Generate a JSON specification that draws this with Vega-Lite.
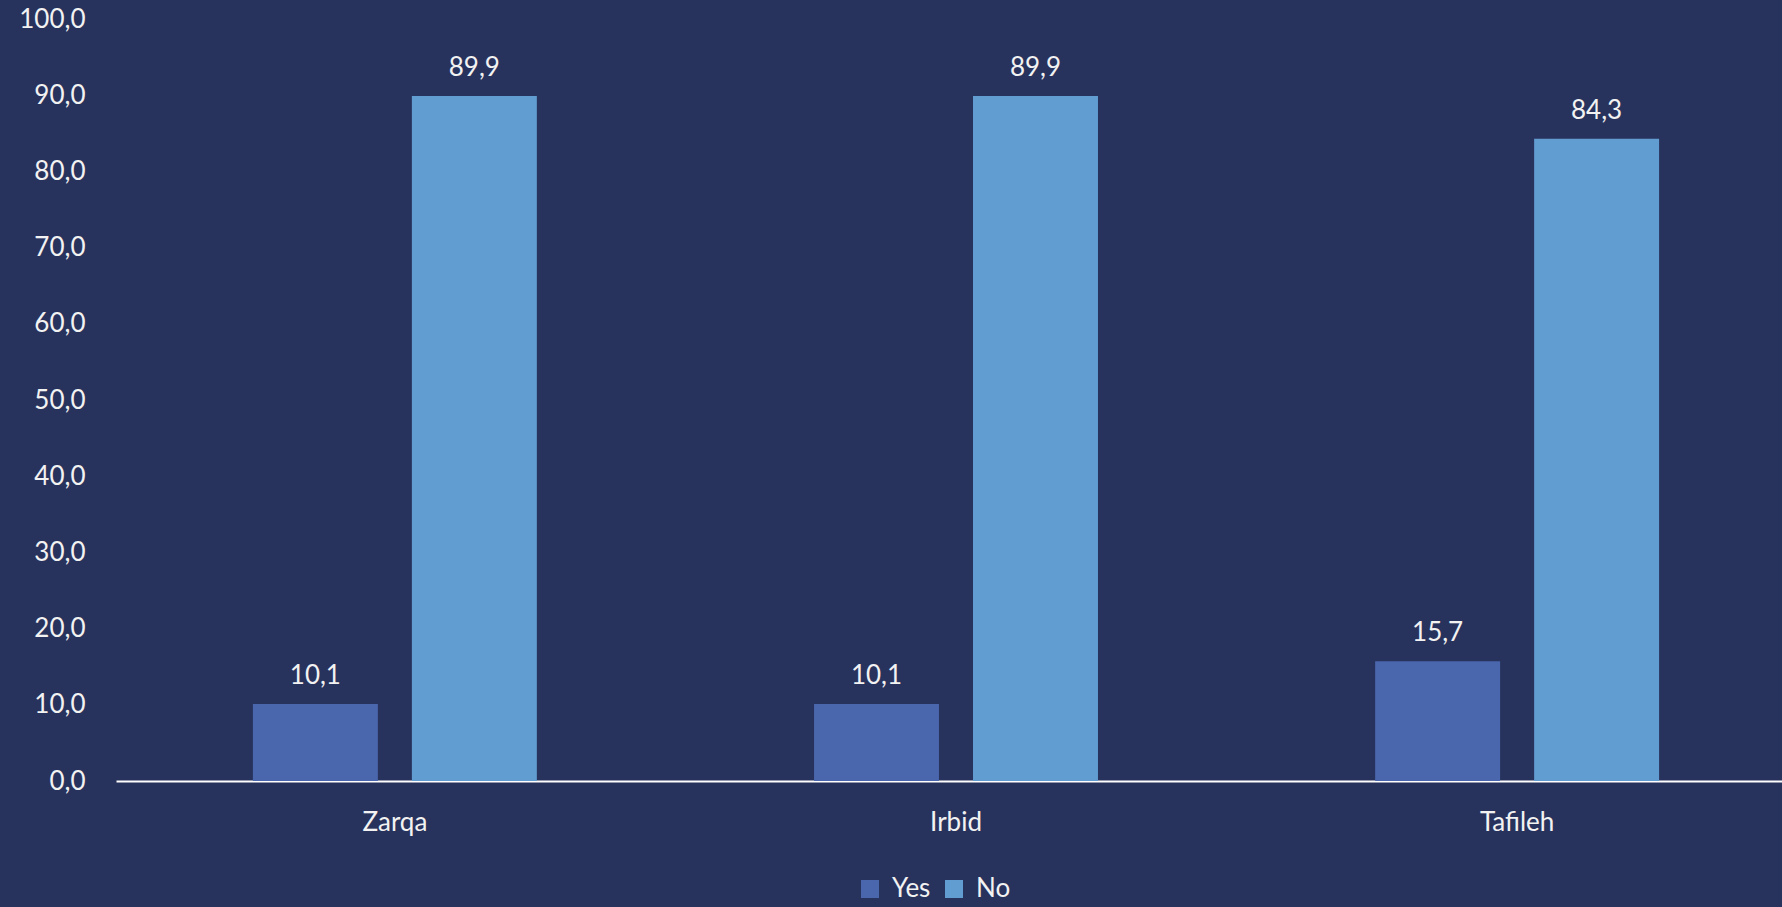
{
  "$schema": "https://vega.github.io/schema/vega-lite/v6.json",
  "width": 1680,
  "height": 762,
  "autosize": {"type": "none"},
  "padding": {"left": 116, "top": 19, "right": 0, "bottom": 126},
  "background": "#28335d",
  "config": {
    "locale": {"number": {"decimal": ",", "thousands": ".", "grouping": [3], "currency": ["", "€"]}},
    "view": {"stroke": null},
    "font": "Lato"
  },
  "data": {
    "values": [
      {"region": "Zarqa", "answer": "Yes", "value": 10.1},
      {"region": "Zarqa", "answer": "No", "value": 89.9},
      {"region": "Irbid", "answer": "Yes", "value": 10.1},
      {"region": "Irbid", "answer": "No", "value": 89.9},
      {"region": "Tafileh", "answer": "Yes", "value": 15.7},
      {"region": "Tafileh", "answer": "No", "value": 84.3}
    ]
  },
  "encoding": {
    "x": {
      "field": "region", "type": "nominal", "sort": ["Zarqa", "Irbid", "Tafileh"],
      "scale": {"paddingInner": 0.494, "paddingOuter": 0.244},
      "axis": {"title": null, "labelAngle": 0, "domain": true, "domainColor": "#ffffff", "domainWidth": 2, "ticks": false, "labelPadding": 28, "labelFontSize": 26, "labelColor": "#f2f2f2", "labelFont": "Lato"}
    },
    "xOffset": {"field": "answer", "type": "nominal", "sort": ["Yes", "No"], "scale": {"paddingInner": 0.214, "paddingOuter": 0}},
    "y": {
      "field": "value", "type": "quantitative", "scale": {"domain": [0, 100], "nice": false},
      "axis": {"title": null, "values": [0, 10, 20, 30, 40, 50, 60, 70, 80, 90, 100], "format": ".1f", "domain": false, "ticks": false, "grid": false, "labelPadding": 31, "labelFontSize": 26, "labelColor": "#f2f2f2", "labelFont": "Lato"}
    }
  },
  "layer": [
    {
      "mark": {"type": "bar"},
      "encoding": {
        "color": {
          "field": "answer", "type": "nominal", "sort": ["Yes", "No"],
          "scale": {"domain": ["Yes", "No"], "range": ["#4A66AC", "#629DD1"]},
          "legend": {"title": null, "orient": "none", "legendX": 741, "legendY": 857, "direction": "horizontal", "symbolType": "square", "symbolSize": 324, "symbolStrokeWidth": 0, "labelFontSize": 26, "labelColor": "#f2f2f2", "labelFont": "Lato", "columnPadding": 10, "labelOffset": 9, "padding": 0}
        }
      }
    },
    {
      "mark": {"type": "text", "dy": -20, "baseline": "alphabetic", "fontSize": 26, "color": "#f2f2f2", "font": "Lato"},
      "encoding": {"text": {"field": "value", "type": "quantitative", "format": ".1f"}}
    }
  ]
}
